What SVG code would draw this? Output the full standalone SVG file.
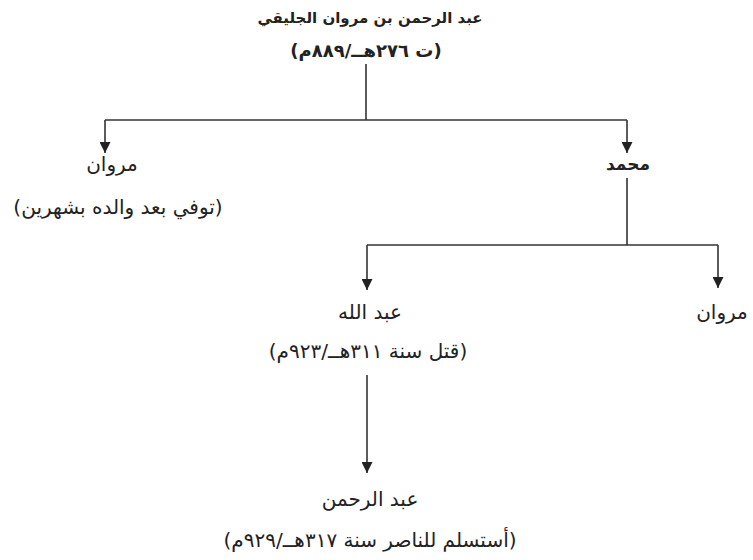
<svg xmlns="http://www.w3.org/2000/svg" width="753" height="560" viewBox="0 0 753 560">
<style>
text{font-family:"DejaVu Sans","Liberation Sans",sans-serif;font-size:20px;fill:#222;text-anchor:middle;direction:rtl;unicode-bidi:embed}
.b{font-weight:bold;font-size:15px}
.b2{font-weight:bold;font-size:18px}
.m{font-weight:bold;font-size:17px}
.c{stroke:#333;stroke-width:1.6;fill:none}
</style>
<defs>
<marker id="ah" viewBox="0 0 10 10" refX="10" refY="5" markerWidth="11" markerHeight="11" markerUnits="userSpaceOnUse" orient="auto">
<path d="M0,0L10,5L0,10z" fill="#222"/>
</marker>
</defs>
<rect width="753" height="560" fill="#fff"/>
<g id="connectors">
<path class="c" d="M366,64V120"/>
<path class="c" d="M105,120H627"/>
<path class="c" d="M105,120V153" marker-end="url(#ah)"/>
<path class="c" d="M627,120V153" marker-end="url(#ah)"/>
<path class="c" d="M627,178V245"/>
<path class="c" d="M367,245H718"/>
<path class="c" d="M367,245V290" marker-end="url(#ah)"/>
<path class="c" d="M718,245V288" marker-end="url(#ah)"/>
<path class="c" d="M367,375V473" marker-end="url(#ah)"/>
</g>
<g id="n1">
<text class="b" x="370" y="23">عبد الرحمن بن مروان الجليقي</text>
<text class="b2" x="366" y="57">(ت ٢٧٦هــ/٨٨٩م)</text>
</g>
<g id="n2">
<text x="112" y="171">مروان</text>
<text x="118" y="214">(توفي بعد والده بشهرين)</text>
</g>
<g id="n3">
<text class="m" x="628" y="170">محمد</text>
</g>
<g id="n4">
<text x="370" y="319">عبد الله</text>
<text x="368" y="358">(قتل سنة ٣١١هــ/٩٢٣م)</text>
</g>
<g id="n5">
<text x="722" y="319">مروان</text>
</g>
<g id="n6">
<text x="370" y="506">عبد الرحمن</text>
<text x="370" y="547">(أستسلم للناصر سنة ٣١٧هــ/٩٢٩م)</text>
</g>
</svg>
